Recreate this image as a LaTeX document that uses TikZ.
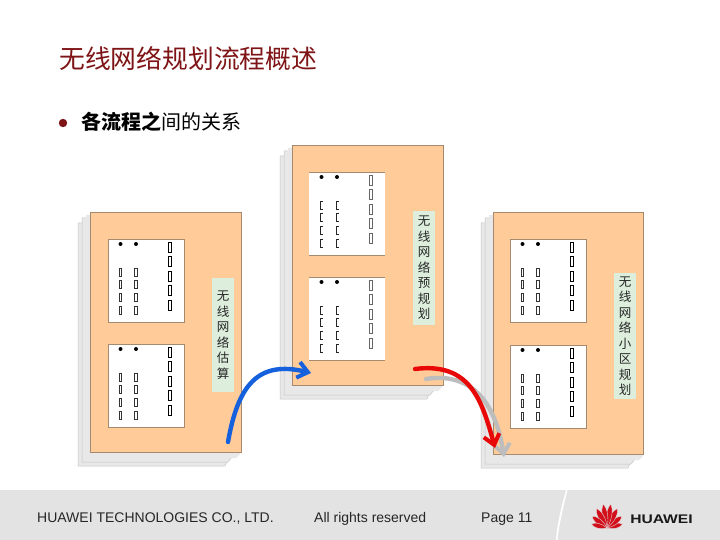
\documentclass[tikz,border=0pt]{standalone}
\usepackage{fontspec}
\setmainfont{Liberation Sans}
\newfontfamily\cjk{Noto Sans CJK SC}
\usetikzlibrary{arrows.meta}
\definecolor{orangeFill}{HTML}{FFCC99}
\definecolor{panelEdge}{HTML}{A68A70}
\definecolor{sheetFill}{HTML}{E8E8E8}
\definecolor{sheetEdge}{HTML}{C4C4C4}
\definecolor{labelFill}{HTML}{DDEEDD}
\definecolor{titleRed}{HTML}{7F1416}
\definecolor{bandGrey}{HTML}{E3E3E3}
\definecolor{logoRed}{HTML}{D2101C}
\definecolor{flowBlue}{HTML}{1560DC}
\definecolor{flowRed}{HTML}{E80808}
\definecolor{flowGrey}{HTML}{BDBDBD}
\tikzset{
  x=1pt,y=-1pt,
  panelbox/.style={fill=orangeFill,draw=panelEdge,line width=.6pt,anchor=north west,inner sep=0pt,minimum width=151pt},
  formbox/.style={fill=white,anchor=north west,inner sep=0pt,minimum width=76pt,minimum height=83pt},
  tagbox/.style={fill=labelFill,draw=none,inner sep=0pt,minimum width=22pt,align=center,font=\cjk\fontsize{12.5}{15.5}\selectfont,text=black!85},
  sheet/.style={fill=sheetFill,draw=sheetEdge,line width=.5pt},
  flow/.style={line width=4.4pt,line cap=round,line join=round,-{Straight Barb[length=10pt,width=16pt,line width=4pt]}},
  footertext/.style={inner sep=0pt,anchor=west,font=\fontsize{14}{16}\selectfont,text=black!85},
  petal/.style={fill=logoRed,draw=bandGrey,line width=.35pt}
}
% sheets behind a panel
\newcommand{\sheets}[3]{%
  \fill[sheet] (#1-12,#2+11) -- (#1+138,#2+11) -- (#1+138,#2+#3+7) -- (#1+135,#2+#3+14) -- (#1-12,#2+#3+14) -- cycle;
  \fill[sheet] (#1-8,#2+6) -- (#1+142,#2+6) -- (#1+142,#2+#3+5) -- (#1+138,#2+#3+10) -- (#1-8,#2+#3+10) -- cycle;
  \fill[sheetFill] (#1-4,#2+3) -- (#1+150,#2+3) -- (#1+150,#2+#3+2) -- (#1+146,#2+#3+6) -- (#1-4,#2+#3+6) -- cycle;
}
\newcommand{\formmarks}[3]{%
  \fill (#1+12.5,#2+5) circle (2);
  \fill (#1+28,#2+5) circle (2);
  \foreach \dy in {3,17,32,46,61}
    \draw[#3,line width=.75pt] (#1+60.5,#2+\dy) rectangle +(3.2,10);
}
\newcommand{\shortrects}[2]{%
  \foreach \dy in {29,41,54,67}{
    \draw[line width=.55pt,black!80] (#1+11,#2+\dy) rectangle +(2.6,8.5);
    \draw[line width=.55pt,black!80] (#1+26.5,#2+\dy) rectangle +(2.6,8.5);
  }
}
\newcommand{\shortbrackets}[2]{%
  \foreach \dy in {29,41,54,67}{
    \draw[line width=.7pt,black!85] (#1+14,#2+\dy) -- +(-2.6,0) -- +(-2.6,8.5) -- +(0,8.5);
    \draw[line width=.7pt,black!85] (#1+29.5,#2+\dy) -- +(-2.6,0) -- +(-2.6,8.5) -- +(0,8.5);
  }
}
\begin{document}
\begin{tikzpicture}
\useasboundingbox (0,0) rectangle (720,540);
\fill[white] (0,0) rectangle (720,540);

% title and bullet
\node[inner sep=0pt,anchor=west,text=titleRed,font=\cjk\fontsize{25.8}{28}\selectfont] (title) at (59,59) {无线网络规划流程概述};
\node[circle,fill=titleRed,inner sep=0pt,minimum size=8.4pt] (bullet) at (63,123) {};
\node[inner sep=0pt,anchor=west,font=\cjk\fontsize{20}{22}\selectfont] (subtitle) at (81,122) {{\bfseries 各流程之}间的关系};

% left panel
\sheets{90}{212}{240}
\node[panelbox,minimum height=240pt] (pL) at (90,212) {};
\node[formbox,draw=panelEdge,line width=.6pt] (fL1) at (108,239) {};
\node[formbox,draw=panelEdge,line width=.6pt] (fL2) at (108,344) {};
\formmarks{108}{239}{black}\shortrects{108}{239}
\formmarks{108}{344}{black}\shortrects{108}{344}
\node[tagbox,minimum height=114pt] (tL) at (223,335) {无\\线\\网\\络\\估\\算};

% middle panel
\sheets{292}{145}{240}
\node[panelbox,minimum height=240pt] (pM) at (292,145) {};
\node[formbox] (fM1) at (309,172) {};
\node[formbox] (fM2) at (309,277) {};
\draw[panelEdge,line width=.6pt] (fM1.north west) -- (fM1.north east) (fM1.south west) -- (fM1.south east);
\draw[panelEdge,line width=.6pt] (fM2.north west) -- (fM2.north east) (fM2.south west) -- (fM2.south east);
\formmarks{309}{172}{black!60}\shortbrackets{309}{172}
\formmarks{309}{277}{black!60}\shortbrackets{309}{277}
\node[tagbox,minimum height=114pt] (tM) at (424,268) {无\\线\\网\\络\\预\\规\\划};

% right panel
\sheets{493}{212}{242}
\node[panelbox,minimum width=150pt,minimum height=242pt] (pR) at (493,212) {};
\node[formbox,draw=panelEdge,line width=.6pt] (fR1) at (510,239) {};
\node[formbox,draw=panelEdge,line width=.6pt] (fR2) at (510,345) {};
\formmarks{510}{239}{black}\shortrects{510}{239}
\formmarks{510}{345}{black}\shortrects{510}{345}
\node[tagbox,minimum height=126pt] (tR) at (625,336) {无\\线\\网\\络\\小\\区\\规\\划};

% flow arrows
\coordinate (grayS) at (426,379);
\coordinate (grayE) at (504,457);
\coordinate (redS) at (415,369);
\coordinate (redE) at (495,448);
\coordinate (blueS) at (228,442);
\coordinate (blueE) at (311,373);
\draw[flow,flowGrey] (grayS) .. controls (470,372) and (495,400) .. (grayE);
\draw[flow,flowRed] (redS) .. controls (470,362) and (482,400) .. (redE);
\draw[flow,flowBlue] (blueS) .. controls (238,385) and (258,360) .. (blueE);

% footer
\fill[bandGrey] (0,490) rectangle (720,540);
\fill[white] (566,490) -- (567.5,490) .. controls (563,508) and (559,525) .. (557.5,540) -- (556,540) .. controls (557,525) and (561,508) .. cycle;
\node[footertext] (company) at (37,519) {HUAWEI TECHNOLOGIES CO., LTD.};
\node[footertext] (rights) at (314,519) {All rights reserved};
\node[footertext] (page) at (481,519.5) {Page 11};
% logo
\foreach \a/\l/\w in {-76/16/3.4,-52/19/3.8,-28/22/4,-9/24/3.8,9/24/3.8,28/22/4,52/19/3.8,76/16/3.4}{
  \fill[petal,shift={(607,528)},rotate=\a] (0,0) .. controls (-\w,-\l*.4) and (-\w*.9,-\l*.8) .. (0,-\l) .. controls (\w*.9,-\l*.8) and (\w,-\l*.4) .. (0,0) -- cycle;
}
\node[inner sep=0pt,anchor=west,font=\bfseries\fontsize{12.5}{15}\selectfont,xscale=1.25,text=black!90] (brand) at (630,519) {HUAWEI};
\end{tikzpicture}
\end{document}
